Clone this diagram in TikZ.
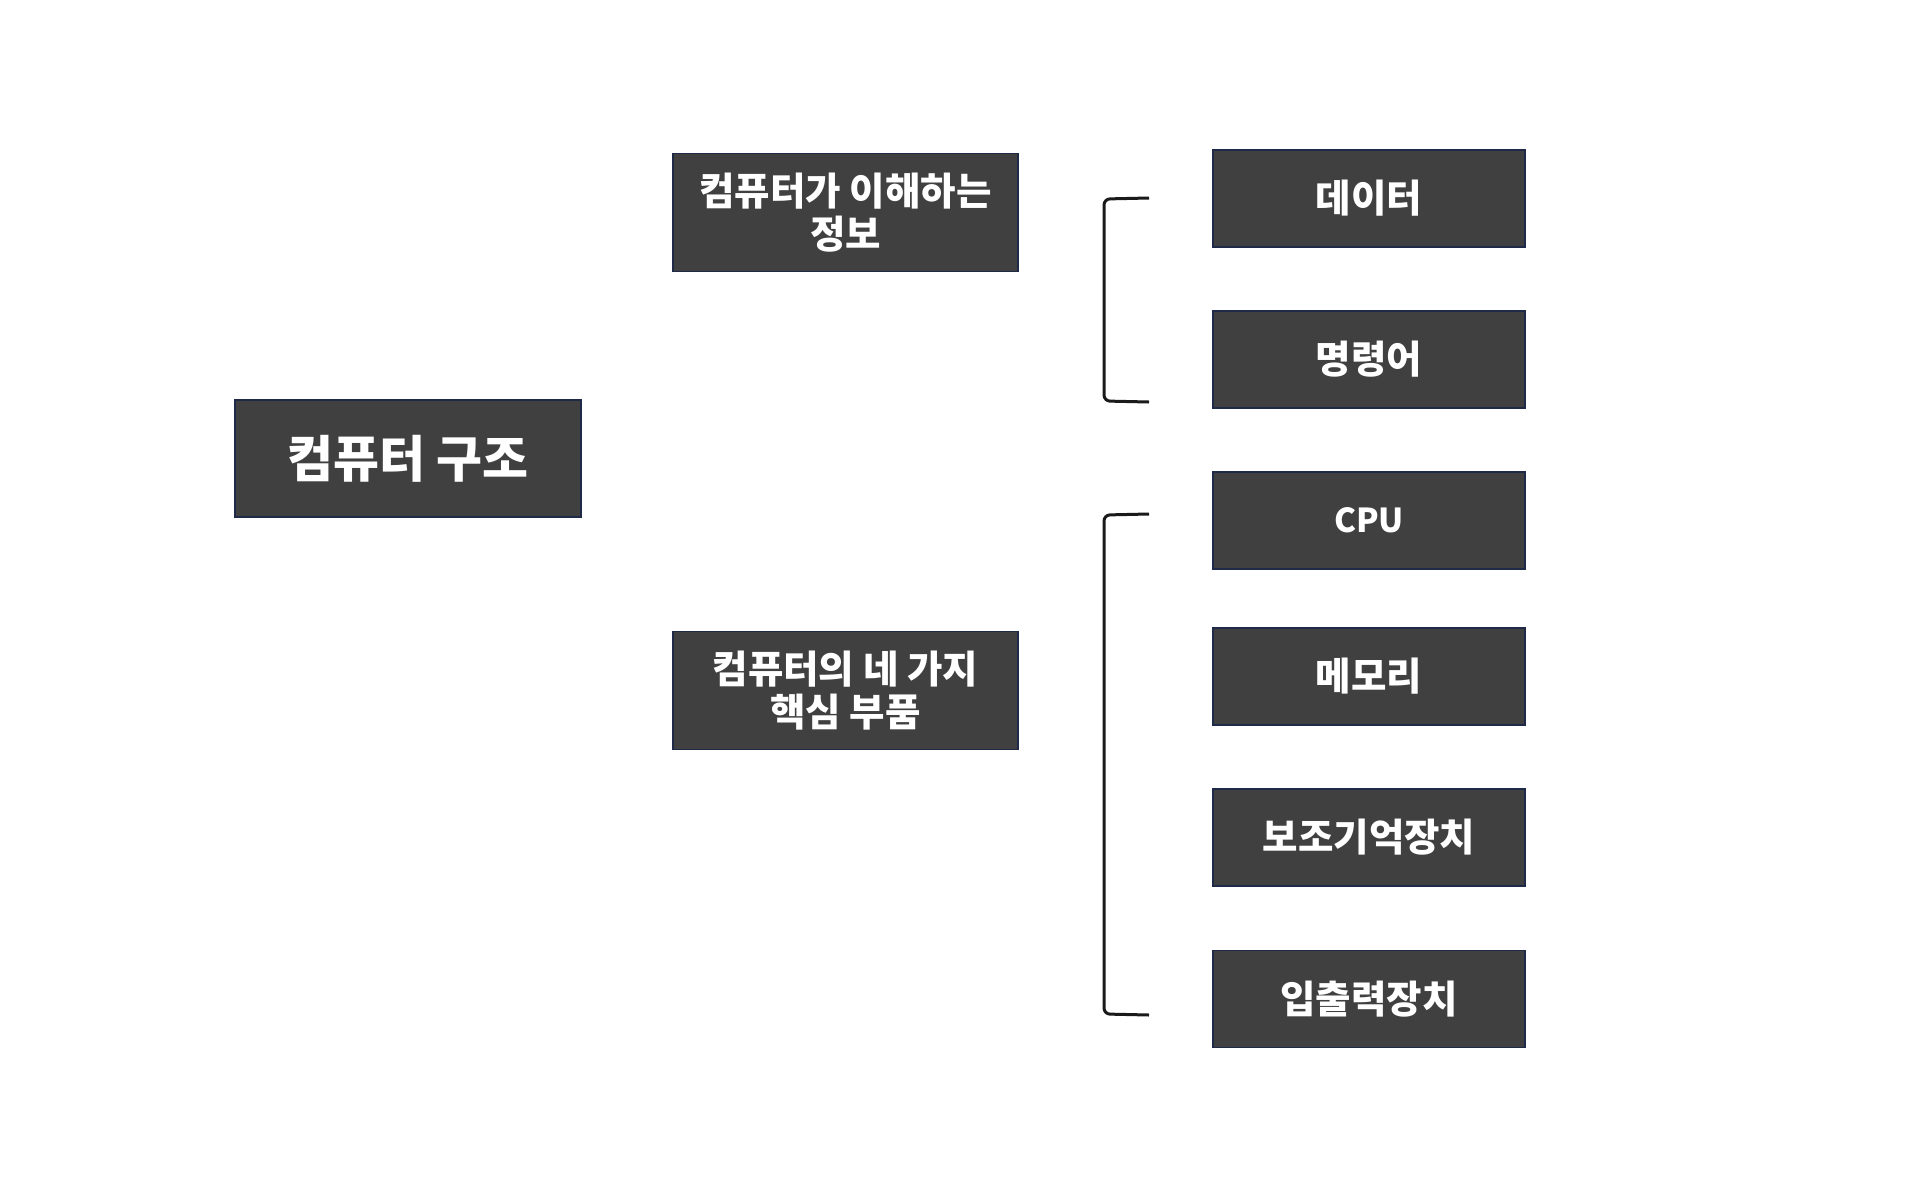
\documentclass[tikz,border=0pt]{standalone}
\usepackage{fontspec}
\newfontfamily\kr{Noto Sans CJK KR}
\definecolor{boxfill}{HTML}{404040}
\definecolor{boxline}{HTML}{1F2A48}
\definecolor{brk}{HTML}{1A1A1A}
\begin{document}
\begin{tikzpicture}[x=1pt,y=-1pt,
  box/.style={draw=boxline, fill=boxfill, line width=1.5pt, text=white,
    font=\kr\bfseries\fontsize{38.5}{43}\selectfont, align=center, inner sep=0pt},
  midbox/.style={box, minimum width=345pt, minimum height=118pt},
  rbox/.style={box, minimum width=312pt, minimum height=97pt},
  bracket/.style={draw=brk, line width=3pt, rounded corners=6pt}]
\useasboundingbox (0,0) rectangle (1922,1192);
\fill[white] (0,0) rectangle (1922,1192);

\node[box, minimum width=346pt, minimum height=117pt,
      font=\kr\bfseries\fontsize{50}{56}\selectfont] (main) at (408,458.5) {컴퓨터 구조};

\node[midbox] (info) at (845.5,212.5) {컴퓨터가 이해하는\\정보};
\node[midbox] (parts) at (845.5,690.5) {컴퓨터의 네 가지\\핵심 부품};

\node[rbox] (data) at (1369,198.5) {데이터};
\node[rbox] (instr) at (1369,359.5) {명령어};
\node[rbox, font=\kr\bfseries\fontsize{33}{43}\selectfont] (cpu) at (1369,520.5) {CPU};
\node[rbox] (mem) at (1369,676.5) {메모리};
\node[rbox] (aux) at (1369,837.5) {보조기억장치};
\node[rbox] (io) at (1369,999) {입출력장치};

\coordinate (b1t) at (1149,198);
\coordinate (b1b) at (1149,402);
\coordinate (b2t) at (1149,514);
\coordinate (b2b) at (1149,1015);

\draw[bracket] (b1t) -- (1104,199) -- (1104,401) -- (b1b);
\draw[bracket] (b2t) -- (1104,515) -- (1104,1014) -- (b2b);
\end{tikzpicture}
\end{document}
